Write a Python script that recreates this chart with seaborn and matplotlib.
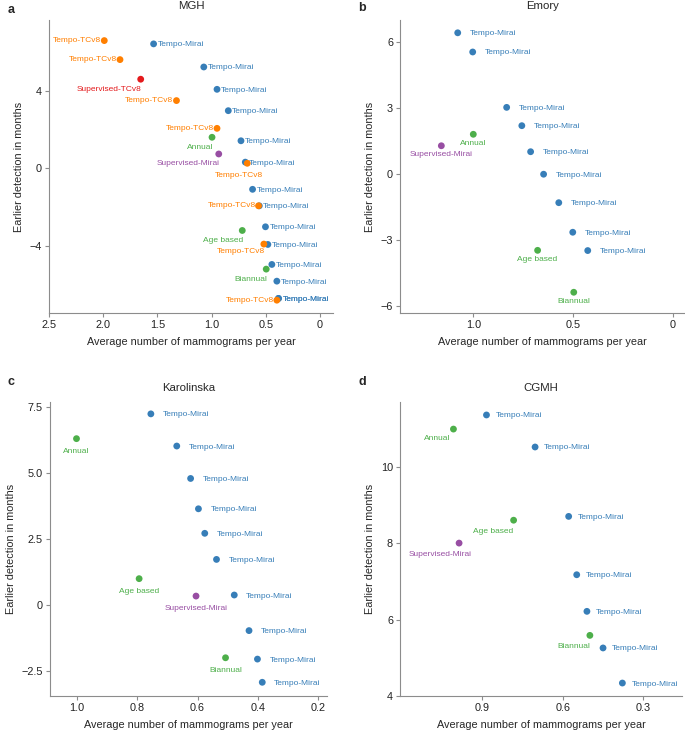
import matplotlib
matplotlib.use("Agg")
import matplotlib.pyplot as plt
import seaborn as sns
import pandas as pd

sns.set_style("ticks")
plt.rcParams["font.family"] = ["Liberation Sans", "DejaVu Sans"]
plt.rcParams["axes.unicode_minus"] = True

# ---------------- data ----------------
# Panel a: MGH
mgh_method = ["Tempo-Mirai"] * 14 + ["Tempo-TCv8"] * 8 + ["Supervised-TCv8", "Annual", "Supervised-Mirai",
                                                         "Age based", "Biannual"]
mgh_x = [1.535, 1.072, 0.95, 0.846, 0.729, 0.689, 0.622, 0.56, 0.503, 0.481, 0.444, 0.398, 0.383, 0.383,
         1.99, 1.845, 1.324, 0.95, 0.671, 0.567, 0.518, 0.398,
         1.654, 0.996, 0.934, 0.717, 0.496]
mgh_y = [6.41, 5.22, 4.07, 2.97, 1.42, 0.32, -1.08, -1.93, -3.01, -3.92, -4.95, -5.81, -6.70, -6.70,
         6.58, 5.60, 3.49, 2.06, 0.26, -1.93, -3.90, -6.79,
         4.59, 1.60, 0.74, -3.20, -5.19]

# Panel b: Emory
emory_method = ["Tempo-Mirai"] * 9 + ["Annual", "Supervised-Mirai", "Age based", "Biannual"]
emory_x = [1.078, 1.003, 0.833, 0.757, 0.713, 0.648, 0.572, 0.502, 0.427, 1.0, 1.16, 0.678, 0.497]
emory_y = [6.40, 5.53, 3.02, 2.19, 1.01, -0.01, -1.30, -2.64, -3.47, 1.80, 1.28, -3.46, -5.36]

# Panel c: Karolinska
karo_method = ["Tempo-Mirai"] * 10 + ["Annual", "Age based", "Supervised-Mirai", "Biannual"]
karo_x = [0.755, 0.669, 0.623, 0.597, 0.576, 0.537, 0.478, 0.429, 0.401, 0.385, 1.002, 0.794, 0.605, 0.507]
karo_y = [7.25, 6.03, 4.80, 3.65, 2.72, 1.73, 0.38, -0.97, -2.05, -2.93, 6.31, 1.00, 0.34, -2.00]

# Panel d: CGMH
cgmh_method = ["Tempo-Mirai"] * 7 + ["Annual", "Age based", "Supervised-Mirai", "Biannual"]
cgmh_x = [0.884, 0.703, 0.578, 0.548, 0.51, 0.45, 0.378, 1.007, 0.783, 0.986, 0.499]
cgmh_y = [11.37, 10.53, 8.71, 7.18, 6.22, 5.26, 4.34, 11.00, 8.61, 8.01, 5.59]

# label placement codes (layout only)
mgh_pos = ["r"] * 14 + ["l", "l", "l", "l", "bc", "l", "bl2", "l", "bl", "bl", "bl", "bl", "bl"]
emory_pos = ["R"] * 9 + ["B"] * 4
karo_pos = ["R"] * 10 + ["C"] * 4
cgmh_pos = ["Rd"] * 7 + ["Da", "D", "Ds", "D"]

palette = {
    "Tempo-Mirai": "#377eb8",
    "Tempo-TCv8": "#ff7f00",
    "Supervised-TCv8": "#e41a1c",
    "Annual": "#4daf4a",
    "Supervised-Mirai": "#984ea3",
    "Age based": "#4daf4a",
    "Biannual": "#4daf4a",
}

codes = {
    "r": (4, -1, "left"),
    "l": (-3, 0, "right"),
    "bl": (1, -10, "right"),
    "bl2": (1, -7.5, "right"),
    "bc": (-8, -12, "center"),
    "R": (12, -1, "left"),
    "Rd": (9, -1, "left"),
    "B": (0, -9, "center"),
    "C": (0, -12.5, "center"),
    "Da": (-3, -9.5, "right"),
    "D": (0, -11.5, "right"),
    "Ds": (13, -11.5, "right"),
}

W, H = 685, 732
fig = plt.figure(figsize=(W / 100, H / 100), dpi=100)


def box(l, r, t, b):
    return [l / W, (H - b) / H, (r - l) / W, (b - t) / H]


panels = [
    dict(name="MGH", letter="a", method=mgh_method, x=mgh_x, y=mgh_y, pos=mgh_pos,
         rect=box(49, 333, 20, 313), xlim=(2.5, -0.12), ylim=(-7.45, 7.64),
         xt=[2.5, 2.0, 1.5, 1.0, 0.5, 0], xtl=["2.5", "2.0", "1.5", "1.0", "0.5", "0"],
         yt=[-4, 0, 4], ytl=["\u22124", "0", "4"], lpos=(8, 10)),
    dict(name="Emory", letter="b", method=emory_method, x=emory_x, y=emory_y, pos=emory_pos,
         rect=box(400, 685, 20, 313), xlim=(1.367, -0.06), ylim=(-6.3, 6.98),
         xt=[1.0, 0.5, 0], xtl=["1.0", "0.5", "0"],
         yt=[-6, -3, 0, 3, 6], ytl=["\u22126", "\u22123", "0", "3", "6"], lpos=(358, 8)),
    dict(name="Karolinska", letter="c", method=karo_method, x=karo_x, y=karo_y, pos=karo_pos,
         rect=box(50, 327, 402, 696), xlim=(1.09, 0.17), ylim=(-3.45, 7.7),
         xt=[1.0, 0.8, 0.6, 0.4, 0.2], xtl=["1.0", "0.8", "0.6", "0.4", "0.2"],
         yt=[-2.5, 0, 2.5, 5.0, 7.5], ytl=["\u22122.5", "0", "2.5", "5.0", "7.5"], lpos=(8, 382)),
    dict(name="CGMH", letter="d", method=cgmh_method, x=cgmh_x, y=cgmh_y, pos=cgmh_pos,
         rect=box(400, 682, 402, 696), xlim=(1.206, 0.156), ylim=(4, 11.71),
         xt=[0.9, 0.6, 0.3], xtl=["0.9", "0.6", "0.3"],
         yt=[4, 6, 8, 10], ytl=["4", "6", "8", "10"], lpos=(358, 382)),
]

spine_col = "#8c8c8c"
for p in panels:
    ax = fig.add_axes(p["rect"])
    df = pd.DataFrame({"x": p["x"], "y": p["y"], "method": p["method"]})
    sns.scatterplot(data=df, x="x", y="y", hue="method", palette=palette, s=24,
                    edgecolor="none", linewidth=0, legend=False, ax=ax, zorder=3)
    for xi, yi, m, code in zip(p["x"], p["y"], p["method"], p["pos"]):
        dx, dy, ha = codes[code]
        ax.annotate(m, (xi, yi), xytext=(dx, dy), textcoords="offset pixels",
                    ha=ha, va="center", fontsize=6, color=palette[m], zorder=2)
    ax.set_xlim(*p["xlim"])
    ax.set_ylim(*p["ylim"])
    ax.set_xticks(p["xt"])
    ax.set_xticklabels(p["xtl"])
    ax.set_yticks(p["yt"])
    ax.set_yticklabels(p["ytl"])
    ax.set_xlabel("Average number of mammograms per year", fontsize=7.8, labelpad=5)
    ax.set_ylabel("Earlier detection in months", fontsize=7.8, labelpad=4)
    ax.set_title(p["name"], fontsize=8.2, pad=8)
    for s in ["top", "right"]:
        ax.spines[s].set_visible(False)
    for s in ["left", "bottom"]:
        ax.spines[s].set_color(spine_col)
        ax.spines[s].set_linewidth(0.8)
    ax.tick_params(axis="both", labelsize=7.8, length=3, width=0.8, color=spine_col,
                   labelcolor="#222222", pad=2)
    ax.set_facecolor("white")
    fig.text(p["lpos"][0] / W, 1 - p["lpos"][1] / H, p["letter"], fontsize=9,
             fontweight="bold", ha="left", va="center")

fig.savefig("out.png", dpi=100, facecolor="white")
